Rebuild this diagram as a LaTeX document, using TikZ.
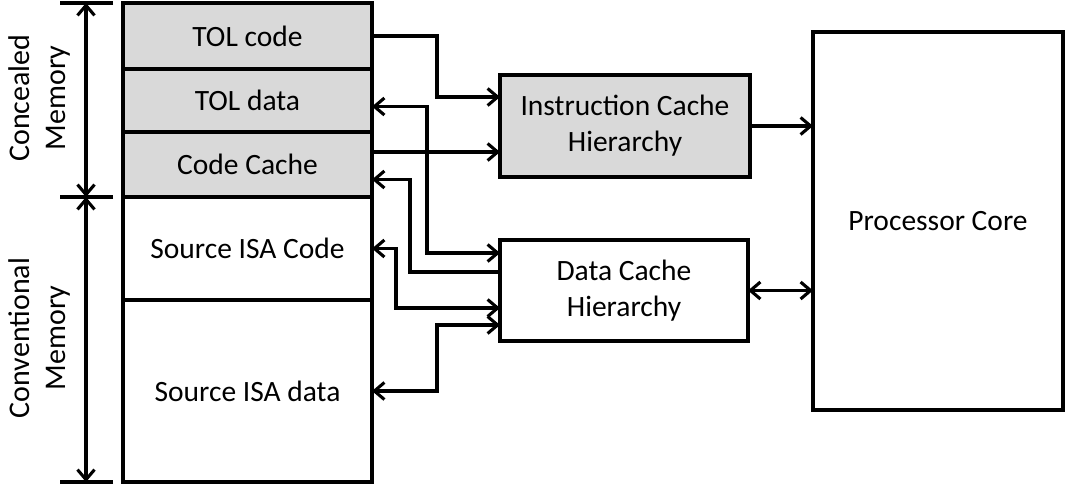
\documentclass[tikz,border=0pt]{standalone}
\usepackage{fontspec}
\setmainfont{Carlito}
\usetikzlibrary{arrows.meta,positioning}

\begin{document}
\begin{tikzpicture}[x=1pt,y=-1pt,line width=3.1pt,
	>={Straight Barb[length=10pt,width=17pt]},
	mem node/.style={rectangle,draw,minimum width=249pt,outer sep=0pt,font=\fontsize{29.5}{33}\selectfont},
	tol node/.style={mem node,fill=gray!30},
	cache node/.style={rectangle,draw,align=center,minimum width=250pt,minimum height=102pt,outer sep=0pt,font=\fontsize{29.5}{36}\selectfont},
	side label/.style={rotate=90,align=center,font=\fontsize{30}{36}\selectfont}
]
	\useasboundingbox (0,0) rectangle (1068,483);

	% memory column
	\node[tol node,minimum height=66pt,anchor=north west] (tolcode) at (123,3) {TOL code};
	\node[tol node,minimum height=63pt,below=0pt of tolcode] (toldata) {TOL data};
	\node[tol node,minimum height=65pt,below=0pt of toldata] (codecache) {Code Cache};
	\node[mem node,minimum height=103pt,below=0pt of codecache] (isacode) {Source ISA Code};
	\node[mem node,minimum height=182pt,below=0pt of isacode] (isadata) {Source ISA data};

	% caches and core
	\node[cache node,fill=gray!30,anchor=north west] (icache) at (500,75) {Instruction Cache\\Hierarchy};
	\node[cache node,minimum width=248pt,minimum height=101pt,anchor=north west] (dcache) at (500,240) {Data Cache\\Hierarchy};
	\node[cache node,minimum height=378pt,anchor=north west] (core) at (813,32) {Processor Core};

	% ports
	\coordinate (ic a) at ([yshift=29pt]icache.west);
	\coordinate (ic b) at ([yshift=-26pt]icache.west);
	\coordinate (dc a) at ([yshift=37.5pt]dcache.west);
	\coordinate (dc b) at ([yshift=18.5pt]dcache.west);
	\coordinate (dc c) at ([yshift=-17.5pt]dcache.west);
	\coordinate (dc d) at ([yshift=-34.5pt]dcache.west);

	\draw[->] (tolcode.east) -- ++(65,0) |- (ic a);
	\draw[->] (codecache.east |- ic b) -- (ic b);
	\draw[<->] ([yshift=-6pt]toldata.east) -- ++(55,0) |- (dc a);
	\draw[->] (dc b) -- ++(-90,0) |- ([yshift=-15pt]codecache.east);
	\draw[<->] (isacode.east) -- ++(24,0) |- (dc c);
	\draw[<->] (isadata.east) -- ++(65,0) |- (dc d);
	\draw[->] (icache.east) -- (icache.east -| core.west);
	\draw[<->] (dcache.east) -- (dcache.east -| core.west);

	% extent of the two memory parts
	\coordinate (conc top) at ([xshift=-37pt]tolcode.north west);
	\coordinate (conv top) at ([xshift=-37pt]isacode.north west);
	\coordinate (conv bot) at ([xshift=-37pt]isadata.south west);
	\foreach \t in {tolcode.north west,isacode.north west,isadata.south west}
		\draw (\t) ++(-10,0) -- ++(-53,0);
	\draw[<->] (conc top) -- (conv top);
	\draw[<->] (conv top) -- (conv bot);

	\node[side label] (conc label) at (40,98) {Concealed\\Memory};
	\node[side label] (conv label) at (40,338) {Conventional\\Memory};
\end{tikzpicture}
\end{document}
